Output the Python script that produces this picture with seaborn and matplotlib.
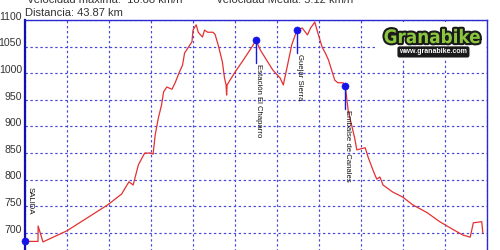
import matplotlib
matplotlib.use("Agg")
import matplotlib.pyplot as plt
import matplotlib.patheffects as pe
import seaborn as sns
import pandas as pd

# ---- data ----
distance_km = [0.0, 1.24, 1.25, 1.71, 4.0, 7.9, 9.2, 9.9, 10.3, 10.8, 11.4, 12.0, 12.2,
               12.4, 12.7, 13.0, 13.2, 13.5, 14.0, 14.3, 14.7, 15.0, 15.2, 15.5, 15.9,
               16.0, 16.3, 16.5, 16.9, 17.1, 17.4, 17.9, 18.1, 18.4, 18.8, 19.0, 19.15,
               19.2, 19.25, 19.4, 20.0, 20.8, 21.6, 22.0, 22.4, 23.0, 23.6, 24.3, 24.6,
               25.0, 25.4, 25.9, 26.4, 26.9, 27.2, 27.6, 27.9, 28.3, 28.6, 28.9, 29.2,
               29.5, 29.8, 30.3, 30.5, 30.8, 31.1, 31.4, 31.6, 32.4, 32.7, 33.2, 33.5,
               33.8, 34.1, 35.0, 36.0, 36.9, 38.3, 39.5, 40.8, 41.7, 42.4, 42.7, 43.5, 43.6]
elevation_m = [684, 684, 713, 683, 704, 753, 773, 796, 790, 828, 850, 850, 848,
               884, 916, 940, 965, 974, 970, 982, 1002, 1015, 1038, 1047, 1059,
               1081, 1091, 1077, 1068, 1081, 1077, 1077, 1073, 1053, 1021, 991, 978,
               959, 978, 983, 1002, 1025, 1049, 1062, 1044, 1025, 1006, 991, 978,
               1015, 1053, 1081, 1085, 1072, 1085, 1096, 1075, 1049, 1038, 1025, 1006,
               987, 982, 982, 976, 927, 903, 878, 856, 860, 841, 815, 801,
               805, 790, 777, 767, 753, 738, 721, 706, 696, 692, 719, 721, 700]

waypoint_names = ["SALIDA", "Estación El Chaparro", "Guejar Sierra", "Embalse de Canales"]
waypoint_km = [0.0, 22.0, 25.9, 30.5]
waypoint_elev = [684, 1062, 1081, 976]

y_ticks = [700, 750, 800, 850, 900, 950, 1000, 1050, 1100]
x_grid = [0, 4, 8, 12, 16, 20, 24, 28, 32, 36, 40, 44]

header_speed = "Velocidad máxima:  18.88 km/h"
header_mean = "Velocidad Media: 5.12 km/h"
header_dist = "Distancia: 43.87 km"

profile = pd.DataFrame({"km": distance_km, "elev": elevation_m})
points = pd.DataFrame({"name": waypoint_names, "km": waypoint_km, "elev": waypoint_elev})

# ---- style ----
sns.set_style("white")
plt.rcParams["font.family"] = ["Liberation Sans", "DejaVu Sans"]

fig = plt.figure(figsize=(5, 2.5), dpi=100)
fig.patch.set_facecolor("white")
ax = fig.add_axes([0.05, 0.92 - 0.958, 0.924, 0.958])
ax.set_xlim(0, 44)
ax.set_ylim(650, 1100)

grid_col = "#4646dc"
ax.set_xticks(x_grid)
ax.set_yticks(y_ticks)
ax.grid(True, color=grid_col, linestyle=(0, (2.0, 2.2)), linewidth=0.85)
ax.tick_params(axis="both", length=0)
ax.set_xticklabels([])
ax.set_yticklabels([])
for t in y_ticks:
    ax.text(-0.3, t + 6, str(t), ha="right", va="center", fontsize=7.6,
            color="#333333", clip_on=False)

for side in ["top", "right", "bottom"]:
    ax.spines[side].set_color("#2a2ad0")
    ax.spines[side].set_linewidth(1.0)
ax.spines["left"].set_color("#1010b0")
ax.spines["left"].set_linewidth(1.6)

sns.lineplot(data=profile, x="km", y="elev", ax=ax, color="#e43030",
             linewidth=0.9, sort=False, estimator=None, zorder=3)

# waypoint stems
stem = 43
for i, r in points.iterrows():
    if i == 0:
        continue
    ax.plot([r.km, r.km], [r.elev, r.elev - stem], color="#1818e0", lw=1.0, zorder=4)
    ax.text(r.km + 0.2, r.elev - stem - 2, r["name"], rotation=270, ha="center",
            va="top", fontsize=5.6, color="#111111", zorder=5)
# SALIDA label
r0 = points.iloc[0]
ax.text(r0.km + 0.45, r0.elev + 103, r0["name"], rotation=270, ha="center",
        va="top", fontsize=5.6, color="#111111", zorder=5)

sns.scatterplot(data=points, x="km", y="elev", ax=ax, color="#1414e8", s=26,
                edgecolor="#1414e8", zorder=6, clip_on=False, legend=False)
ax.set_xlabel("")
ax.set_ylabel("")

# logo
ax.add_patch(plt.Rectangle((33.4, 1025), 10.4, 72, facecolor="white",
                           edgecolor="none", zorder=2.5))
ax.text(38.8, 1067, "Granabike", ha="center", va="center", fontsize=13.5,
        fontweight="bold", fontstretch="condensed", family="DejaVu Sans",
        color="#8cc63f", zorder=7,
        path_effects=[pe.withStroke(linewidth=3.0, foreground="#1a1a1a")])
ax.text(38.9, 1040, "www.granabike.com", ha="center", va="center", fontsize=5.0,
        fontweight="bold", color="white", zorder=7,
        bbox=dict(boxstyle="round,pad=0.3", facecolor="#1a1a1a", edgecolor="none"))

# header
fig.text(0.054, 0.988, header_speed, fontsize=8, color="#333333", va="baseline")
fig.text(0.432, 0.988, header_mean, fontsize=8, color="#333333", va="baseline")
fig.text(0.05, 0.948, header_dist, fontsize=8, color="#333333", va="center")

fig.savefig("out.png", dpi=100, facecolor="white")
